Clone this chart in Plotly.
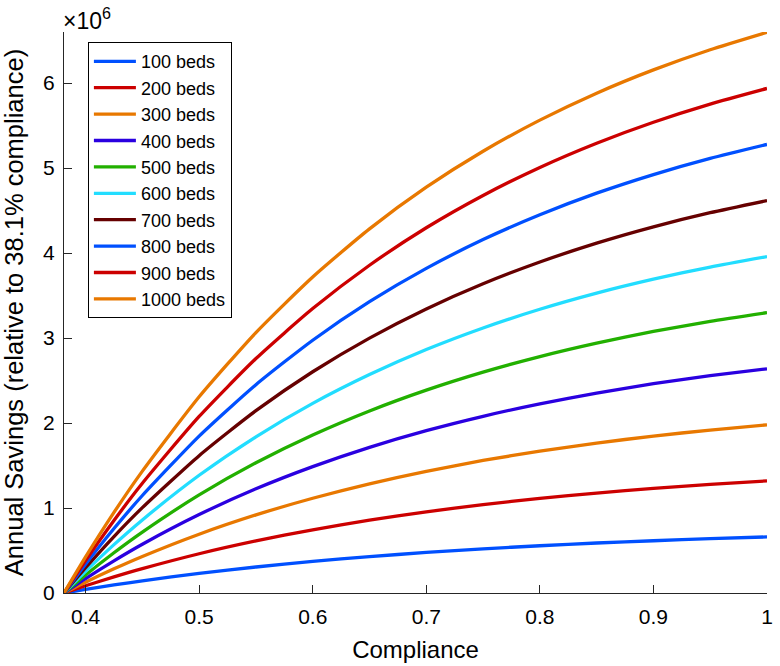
import plotly.graph_objects as go

compliance = [0.381, 0.40, 0.425, 0.45, 0.5, 0.55, 0.6, 0.65, 0.7, 0.75, 0.8, 0.85, 0.9, 0.95, 1.0]

beds_100 = [0, 0.042, 0.095, 0.143, 0.231, 0.306, 0.372, 0.428, 0.477, 0.520, 0.556, 0.588, 0.615, 0.639, 0.660]
beds_200 = [0, 0.085, 0.190, 0.287, 0.462, 0.613, 0.744, 0.857, 0.955, 1.039, 1.113, 1.176, 1.231, 1.278, 1.319]
beds_300 = [0, 0.127, 0.284, 0.430, 0.692, 0.919, 1.115, 1.285, 1.432, 1.559, 1.669, 1.764, 1.846, 1.917, 1.979]
beds_400 = [0, 0.170, 0.379, 0.574, 0.923, 1.226, 1.487, 1.714, 1.910, 2.079, 2.225, 2.352, 2.462, 2.556, 2.638]
beds_500 = [0, 0.212, 0.474, 0.717, 1.154, 1.532, 1.859, 2.142, 2.387, 2.599, 2.782, 2.940, 3.077, 3.196, 3.298]
beds_600 = [0, 0.254, 0.569, 0.860, 1.385, 1.838, 2.231, 2.570, 2.864, 3.118, 3.338, 3.528, 3.692, 3.835, 3.958]
beds_700 = [0, 0.297, 0.664, 1.004, 1.616, 2.145, 2.603, 2.999, 3.342, 3.638, 3.894, 4.116, 4.308, 4.474, 4.617]
beds_800 = [0, 0.339, 0.758, 1.147, 1.846, 2.451, 2.974, 3.427, 3.819, 4.158, 4.450, 4.704, 4.923, 5.113, 5.277]
beds_900 = [0, 0.382, 0.853, 1.291, 2.077, 2.758, 3.346, 3.856, 4.297, 4.677, 5.007, 5.292, 5.539, 5.752, 5.936]
beds_1000 = [0, 0.424, 0.948, 1.434, 2.308, 3.064, 3.718, 4.284, 4.774, 5.197, 5.563, 5.880, 6.154, 6.391, 6.596]

series_names = ["100 beds", "200 beds", "300 beds", "400 beds", "500 beds",
                "600 beds", "700 beds", "800 beds", "900 beds", "1000 beds"]
series_values = [beds_100, beds_200, beds_300, beds_400, beds_500,
                 beds_600, beds_700, beds_800, beds_900, beds_1000]
colors = ["#0050FF", "#CC0000", "#E87800", "#2A00E0", "#22B000",
          "#22DDFF", "#660000", "#0050FF", "#CC0000", "#E87800"]

x_ticks = [0.4, 0.5, 0.6, 0.7, 0.8, 0.9, 1.0]
x_ticklabels = ["0.4", "0.5", "0.6", "0.7", "0.8", "0.9", "1"]
y_ticks = [0, 1, 2, 3, 4, 5, 6]

FONT = "Liberation Sans, Arial, Helvetica, sans-serif"

fig = go.Figure()
for name, vals, col in zip(series_names, series_values, colors):
    fig.add_trace(go.Scatter(x=compliance, y=vals, mode="lines", name=name,
                             line=dict(color=col, width=3.3, shape="spline", smoothing=0.6),
                             cliponaxis=True))

fig.update_layout(
    width=780, height=666,
    margin=dict(l=64, r=7, t=32, b=73),
    paper_bgcolor="white", plot_bgcolor="white",
    font=dict(family=FONT, size=21, color="#000000"),
    showlegend=True,
    legend=dict(x=0.034, y=0.982, xanchor="left", yanchor="top",
                bgcolor="white", bordercolor="#000000", borderwidth=1,
                font=dict(family=FONT, size=18, color="#000000"),
                tracegroupgap=0, itemwidth=42),
    xaxis=dict(range=[0.381, 1.0], tickvals=x_ticks, ticktext=x_ticklabels,
               showgrid=False, zeroline=False, showline=True, linecolor="#262626", linewidth=1.3,
               ticks="inside", ticklen=8, tickcolor="#262626", tickwidth=1.3,
               ticklabelstandoff=5,
               tickfont=dict(family=FONT, size=21, color="#000000"),
               title=dict(text="Compliance", font=dict(family=FONT, size=24, color="#000000"), standoff=13)),
    yaxis=dict(range=[0, 6.6], tickvals=y_ticks,
               showgrid=False, zeroline=False, showline=True, linecolor="#262626", linewidth=1.3,
               ticks="inside", ticklen=8, tickcolor="#262626", tickwidth=1.3,
               ticklabelstandoff=4,
               tickfont=dict(family=FONT, size=21, color="#000000"),
               title=dict(text="Annual Savings (relative to 38.1% compliance)",
                          font=dict(family=FONT, size=25.5, color="#000000"), standoff=12)),
    annotations=[dict(text="×10<sup>6</sup>", xref="paper", yref="paper", x=0.0, y=1.0,
                      xanchor="left", yanchor="bottom", showarrow=False, yshift=-4, xshift=-3,
                      font=dict(family=FONT, size=23, color="#000000"))],
)

fig.write_html("out.html")
